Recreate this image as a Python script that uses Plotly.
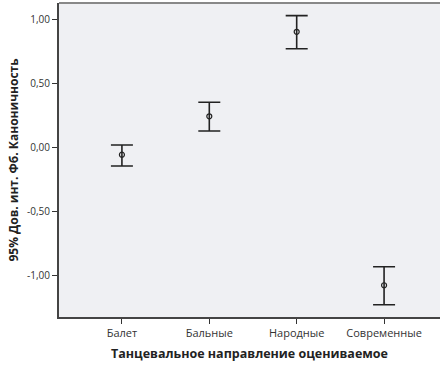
import plotly.graph_objects as go

categories = ["Балет", "Бальные", "Народные", "Современные"]
means = [-0.06, 0.24, 0.90, -1.08]
upper = [0.016, 0.35, 1.026, -0.935]
lower = [-0.148, 0.125, 0.768, -1.232]
y_ticks = [-1.0, -0.5, 0.0, 0.5, 1.0]

x_pos = list(range(len(categories)))
err_plus = [u - m for u, m in zip(upper, means)]
err_minus = [m - l for m, l in zip(means, lower)]
y_ticktext = [f"{v:.2f}".replace(".", ",") for v in y_ticks]

fig = go.Figure()
fig.add_trace(go.Scatter(
    x=x_pos, y=means, mode="markers",
    marker=dict(symbol="circle-open", size=5, color="#222222", line=dict(width=1.2)),
    error_y=dict(type="data", symmetric=False, array=err_plus, arrayminus=err_minus,
                 color="#222222", thickness=1.6, width=11),
    showlegend=False, hoverinfo="skip",
))

font = "Open Sans, Noto Sans, sans-serif"
fig.update_layout(
    width=440, height=368,
    margin=dict(l=59, r=0, t=3, b=51),
    paper_bgcolor="white", plot_bgcolor="#EFF0F3",
    font=dict(family=font, size=10, color="#222222"),
    xaxis=dict(
        range=[-0.72, 3.64], tickmode="array", tickvals=x_pos, ticktext=categories,
        ticks="outside", ticklen=5, tickcolor="#333333", tickwidth=1,
        showgrid=False, zeroline=False, showline=True, linecolor="#444444", linewidth=2,
        tickfont=dict(size=11, color="#333333"), automargin=False,
        title=dict(text="<b>Танцевальное направление оцениваемое</b>",
                   font=dict(size=12.5, color="#222222"), standoff=10),
    ),
    yaxis=dict(
        range=[-1.328, 1.125], tickmode="array", tickvals=y_ticks, ticktext=y_ticktext,
        ticks="outside", ticklen=5, tickcolor="#333333", tickwidth=1,
        showgrid=False, zeroline=False, showline=True, linecolor="#444444", linewidth=2,
        tickfont=dict(size=10, color="#333333"), automargin=False,
        title=dict(text="<b>95% Дов. инт. Фб. Каноничность</b>",
                   font=dict(size=12, color="#222222"), standoff=6),
    ),
    shapes=[dict(type="line", xref="paper", yref="paper", x0=0, x1=1, y0=1, y1=1,
                 line=dict(color="#888888", width=2))],
)

fig.write_html("out.html", config={"displayModeBar": False},
               post_script="document.body.style.margin='0';document.body.style.overflow='hidden';")
